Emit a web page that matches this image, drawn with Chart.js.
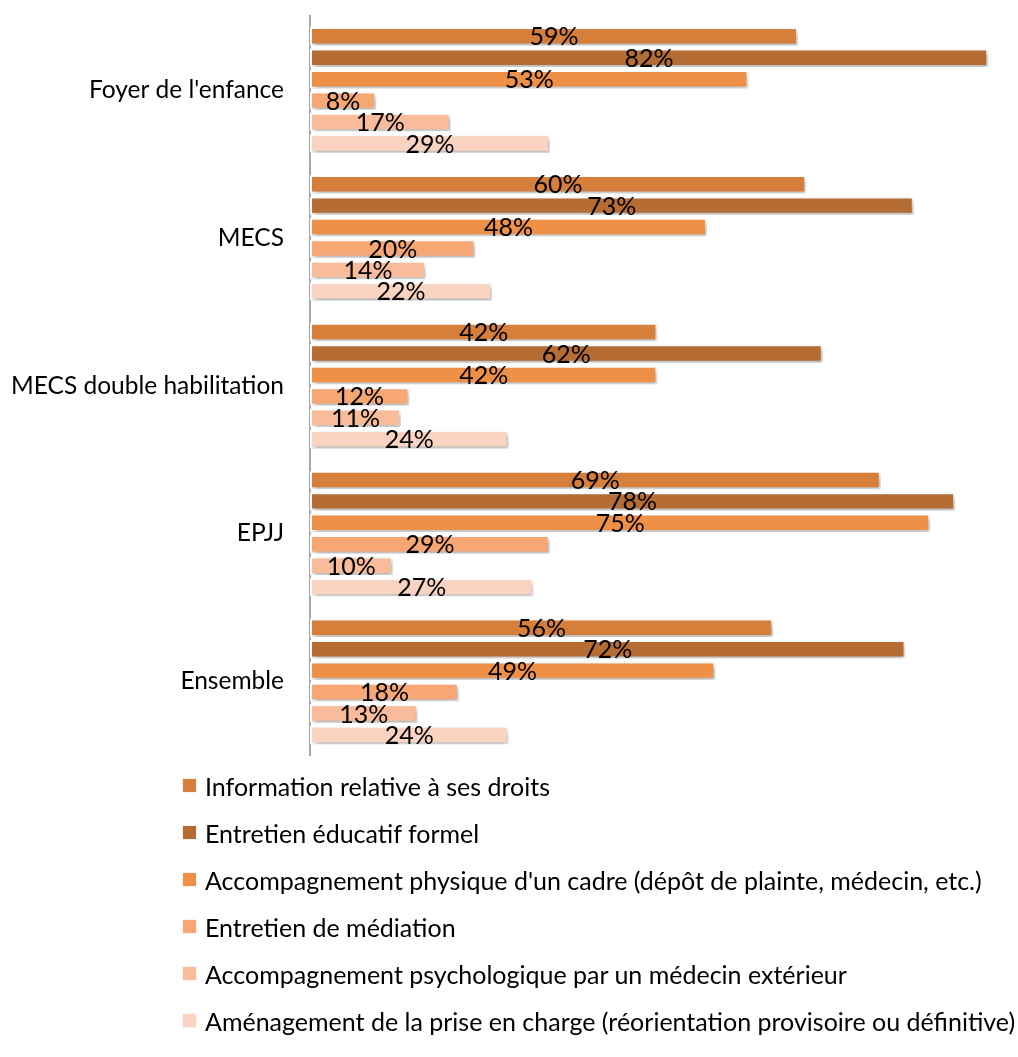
<!DOCTYPE html>
<html>
<head>
<meta charset="utf-8">
<script src="https://cdn.jsdelivr.net/npm/chart.js@4/dist/chart.umd.min.js"></script>
<style>
  body { margin: 0; background: #fff; font-family: Lato, sans-serif; }
  #wrap { position: relative; width: 1018px; height: 770px; }
  #legende { position: absolute; left: 183px; top: 762px; }
  #legende .item { display: flex; align-items: center; height: 47px; font-size: 25px; color: #000; white-space: nowrap; }
  #legende .box { width: 13px; height: 13px; margin-right: 9px; flex: none; box-shadow: 0 0 2px rgba(0,0,0,0.15); }
</style>
</head>
<body>
<div id="wrap"><canvas id="graf"></canvas></div>
<div id="legende"></div>
<script>
var etablissements = ["Foyer de l'enfance", "MECS", "MECS double habilitation", "EPJJ", "Ensemble"];
var series = [
    "Information relative à ses droits",
    "Entretien éducatif formel",
    "Accompagnement physique d'un cadre (dépôt de plainte, médecin, etc.)",
    "Entretien de médiation",
    "Accompagnement psychologique par un médecin extérieur",
    "Aménagement de la prise en charge (réorientation provisoire ou définitive)"
];
var information = [59, 60, 42, 69, 56];
var entretienEducatif = [82, 73, 62, 78, 72];
var accompPhysique = [53, 48, 42, 75, 49];
var mediation = [8, 20, 12, 29, 18];
var accompPsy = [17, 14, 11, 10, 13];
var amenagement = [29, 22, 24, 27, 24];
var couleurs = ["#D57F3B", "#B56D34", "#EE9045", "#F6A774", "#F8BC9A", "#FAD4C0"];

var valeurs = [information, entretienEducatif, accompPhysique, mediation, accompPsy, amenagement];

// ombre sous les barres
var ombre = {
    id: 'ombre',
    beforeDatasetsDraw: function(chart) {
        var ctx = chart.ctx;
        ctx.save();
        ctx.shadowColor = 'rgba(0,0,0,0.3)';
        ctx.shadowBlur = 5;
        ctx.shadowOffsetX = 2;
        ctx.shadowOffsetY = 3;
    },
    afterDatasetsDraw: function(chart) {
        chart.ctx.restore();
    }
};

// etiquettes au milieu des barres
var etiquettes = {
    id: 'etiquettes',
    afterDraw: function(chart) {
        var ctx = chart.ctx;
        ctx.save();
        ctx.font = '25px Lato';
        ctx.fillStyle = '#000';
        ctx.textAlign = 'center';
        ctx.textBaseline = 'middle';
        chart.data.datasets.forEach(function(ds, i) {
            chart.getDatasetMeta(i).data.forEach(function(bar, j) {
                ctx.fillText(ds.data[j] + '%', (bar.x + bar.base) / 2, bar.y + 1);
            });
        });
        ctx.restore();
    }
};

var grafica = document.getElementById("graf");
var chart = new Chart(grafica, {
    type: "bar",
    data: {
        labels: etablissements,
        datasets: series.map(function(nom, i) {
            return {
                label: nom,
                data: valeurs[i],
                backgroundColor: couleurs[i],
                borderColor: '#fff',
                borderWidth: 2,
                borderSkipped: false,
                categoryPercentage: 0.87,
                barPercentage: 0.86
            };
        })
    },
    options: {
        indexAxis: 'y',
        responsive: true,
        maintainAspectRatio: false,
        animation: false,
        layout: { padding: { top: 16, bottom: 12, left: 0, right: 5 } },
        plugins: { legend: { display: false }, tooltip: { enabled: false } },
        scales: {
            x: { display: false, min: 0, max: 85 },
            y: {
                afterFit: function(scale) { scale.width = 310; },
                grid: { display: false, drawTicks: true, tickLength: 26, color: 'rgba(0,0,0,0)' },
                border: { color: '#A6A6A6', width: 2 },
                ticks: { padding: 0, color: '#000', font: { family: 'Lato', size: 24.5 } }
            }
        }
    },
    plugins: [ombre, etiquettes]
});

var leg = document.getElementById('legende');
series.forEach(function(nom, i) {
    var d = document.createElement('div');
    d.className = 'item';
    d.innerHTML = '<span class="box" style="background:' + couleurs[i] + '"></span><span></span>';
    d.lastChild.textContent = nom;
    leg.appendChild(d);
});
</script>
</body>
</html>
